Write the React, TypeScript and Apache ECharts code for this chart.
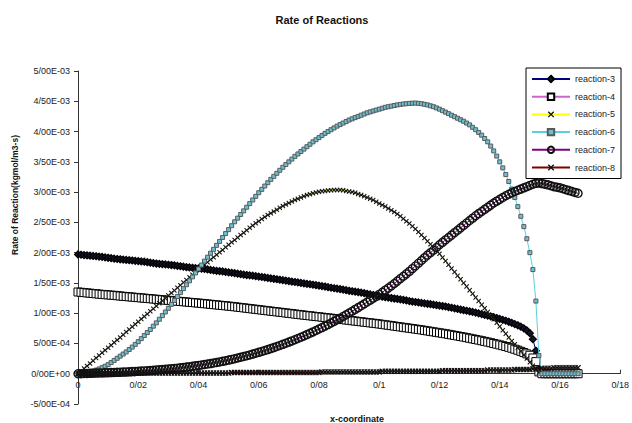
import React, { useEffect, useRef } from 'react';
import * as echarts from 'echarts';

// x-coordinate grid (one entry per cell, 0.001 apart)
const xs = [
  0, 0.001, 0.002, 0.003, 0.004, 0.005, 0.006, 0.007, 0.008, 0.009,
  0.01, 0.011, 0.012, 0.013, 0.014, 0.015, 0.016, 0.017, 0.018, 0.019,
  0.02, 0.021, 0.022, 0.023, 0.024, 0.025, 0.026, 0.027, 0.028, 0.029,
  0.03, 0.031, 0.032, 0.033, 0.034, 0.035, 0.036, 0.037, 0.038, 0.039,
  0.04, 0.041, 0.042, 0.043, 0.044, 0.045, 0.046, 0.047, 0.048, 0.049,
  0.05, 0.051, 0.052, 0.053, 0.054, 0.055, 0.056, 0.057, 0.058, 0.059,
  0.06, 0.061, 0.062, 0.063, 0.064, 0.065, 0.066, 0.067, 0.068, 0.069,
  0.07, 0.071, 0.072, 0.073, 0.074, 0.075, 0.076, 0.077, 0.078, 0.079,
  0.08, 0.081, 0.082, 0.083, 0.084, 0.085, 0.086, 0.087, 0.088, 0.089,
  0.09, 0.091, 0.092, 0.093, 0.094, 0.095, 0.096, 0.097, 0.098, 0.099,
  0.1, 0.101, 0.102, 0.103, 0.104, 0.105, 0.106, 0.107, 0.108, 0.109,
  0.11, 0.111, 0.112, 0.113, 0.114, 0.115, 0.116, 0.117, 0.118, 0.119,
  0.12, 0.121, 0.122, 0.123, 0.124, 0.125, 0.126, 0.127, 0.128, 0.129,
  0.13, 0.131, 0.132, 0.133, 0.134, 0.135, 0.136, 0.137, 0.138, 0.139,
  0.14, 0.141, 0.142, 0.143, 0.144, 0.145, 0.146, 0.147, 0.148, 0.149,
  0.15, 0.151, 0.152, 0.153, 0.154, 0.155, 0.156, 0.157, 0.158, 0.159,
  0.16, 0.161, 0.162, 0.163, 0.164, 0.165, 0.166,
];

// values in units of 1E-03 kgmol/m3-s
const SCALE = 1e-3;

const reaction3 = [
  1.970, 1.965, 1.960, 1.955, 1.950, 1.945, 1.940, 1.935, 1.930, 1.922,
  1.915, 1.908, 1.900, 1.895, 1.890, 1.885, 1.880, 1.875, 1.870, 1.865,
  1.860, 1.855, 1.850, 1.842, 1.835, 1.828, 1.820, 1.815, 1.810, 1.805,
  1.800, 1.795, 1.790, 1.782, 1.775, 1.768, 1.760, 1.755, 1.750, 1.745,
  1.740, 1.735, 1.730, 1.722, 1.715, 1.708, 1.700, 1.695, 1.690, 1.682,
  1.675, 1.668, 1.660, 1.652, 1.645, 1.638, 1.630, 1.625, 1.620, 1.612,
  1.605, 1.598, 1.590, 1.582, 1.575, 1.568, 1.560, 1.552, 1.545, 1.538,
  1.530, 1.522, 1.515, 1.508, 1.500, 1.492, 1.485, 1.478, 1.470, 1.462,
  1.455, 1.448, 1.440, 1.430, 1.420, 1.412, 1.405, 1.398, 1.390, 1.380,
  1.370, 1.362, 1.355, 1.348, 1.340, 1.330, 1.320, 1.310, 1.300, 1.290,
  1.280, 1.272, 1.265, 1.258, 1.250, 1.242, 1.235, 1.228, 1.220, 1.210,
  1.200, 1.192, 1.185, 1.178, 1.170, 1.162, 1.155, 1.148, 1.140, 1.132,
  1.125, 1.118, 1.110, 1.100, 1.090, 1.080, 1.070, 1.060, 1.050, 1.040,
  1.030, 1.020, 1.010, 0.998, 0.985, 0.972, 0.960, 0.948, 0.935, 0.920,
  0.905, 0.890, 0.875, 0.858, 0.840, 0.820, 0.800, 0.777, 0.750, 0.715,
  0.670, 0.570, 0.380, 0.080, 0, 0, 0, 0, 0, 0,
  0, 0, 0, 0, 0, 0, 0,
];

const reaction4 = [
  1.350, 1.345, 1.340, 1.335, 1.330, 1.325, 1.320, 1.315, 1.310, 1.306,
  1.302, 1.298, 1.294, 1.289, 1.284, 1.279, 1.275, 1.270, 1.266, 1.261,
  1.257, 1.252, 1.248, 1.243, 1.239, 1.234, 1.230, 1.225, 1.221, 1.216,
  1.212, 1.207, 1.203, 1.198, 1.194, 1.189, 1.185, 1.180, 1.176, 1.171,
  1.167, 1.162, 1.157, 1.152, 1.147, 1.142, 1.137, 1.132, 1.127, 1.122,
  1.117, 1.112, 1.106, 1.100, 1.094, 1.088, 1.082, 1.076, 1.070, 1.064,
  1.058, 1.052, 1.046, 1.040, 1.034, 1.028, 1.022, 1.016, 1.010, 1.004,
  0.998, 0.992, 0.986, 0.980, 0.974, 0.968, 0.962, 0.957, 0.951, 0.945,
  0.940, 0.934, 0.928, 0.922, 0.917, 0.911, 0.905, 0.900, 0.894, 0.888,
  0.882, 0.876, 0.870, 0.864, 0.858, 0.852, 0.846, 0.840, 0.834, 0.828,
  0.822, 0.815, 0.808, 0.801, 0.794, 0.787, 0.780, 0.773, 0.766, 0.759,
  0.752, 0.745, 0.738, 0.731, 0.724, 0.716, 0.708, 0.700, 0.692, 0.684,
  0.676, 0.668, 0.660, 0.651, 0.642, 0.633, 0.624, 0.615, 0.606, 0.596,
  0.586, 0.576, 0.566, 0.556, 0.545, 0.534, 0.523, 0.512, 0.500, 0.488,
  0.476, 0.463, 0.450, 0.436, 0.421, 0.405, 0.388, 0.370, 0.350, 0.328,
  0.305, 0.260, 0.200, 0.030, 0, 0, 0, 0, 0, 0,
  0, 0, 0, 0, 0, 0, 0,
];

const reaction5 = [
  0.000, 0.042, 0.085, 0.128, 0.170, 0.215, 0.260, 0.302, 0.345, 0.388,
  0.430, 0.472, 0.515, 0.558, 0.600, 0.645, 0.690, 0.732, 0.775, 0.818,
  0.860, 0.902, 0.945, 0.988, 1.030, 1.075, 1.120, 1.162, 1.205, 1.248,
  1.290, 1.332, 1.375, 1.418, 1.460, 1.505, 1.550, 1.592, 1.635, 1.678,
  1.720, 1.760, 1.800, 1.842, 1.885, 1.925, 1.965, 2.005, 2.045, 2.088,
  2.130, 2.170, 2.210, 2.250, 2.290, 2.330, 2.370, 2.410, 2.450, 2.485,
  2.520, 2.555, 2.590, 2.620, 2.650, 2.680, 2.710, 2.740, 2.770, 2.795,
  2.820, 2.845, 2.870, 2.890, 2.910, 2.930, 2.950, 2.965, 2.980, 2.993,
  3.005, 3.013, 3.020, 3.025, 3.030, 3.033, 3.035, 3.033, 3.030, 3.020,
  3.010, 3.000, 2.990, 2.970, 2.950, 2.930, 2.910, 2.890, 2.870, 2.840,
  2.810, 2.785, 2.760, 2.730, 2.700, 2.670, 2.640, 2.600, 2.560, 2.520,
  2.480, 2.435, 2.390, 2.340, 2.290, 2.240, 2.190, 2.140, 2.090, 2.035,
  1.980, 1.920, 1.860, 1.800, 1.740, 1.680, 1.620, 1.560, 1.500, 1.440,
  1.380, 1.320, 1.260, 1.200, 1.140, 1.080, 1.020, 0.960, 0.900, 0.840,
  0.780, 0.720, 0.660, 0.600, 0.540, 0.485, 0.430, 0.370, 0.310, 0.250,
  0.190, 0.130, 0.070, 0.020, 0, 0, 0, 0, 0, 0,
  0, 0, 0, 0, 0, 0, 0,
];

const reaction6 = [
  0.000, 0.004, 0.010, 0.019, 0.030, 0.044, 0.060, 0.079, 0.100, 0.124,
  0.150, 0.184, 0.220, 0.255, 0.290, 0.325, 0.360, 0.400, 0.440, 0.485,
  0.530, 0.580, 0.630, 0.680, 0.730, 0.785, 0.840, 0.900, 0.960, 1.020,
  1.080, 1.145, 1.210, 1.275, 1.340, 1.405, 1.470, 1.535, 1.600, 1.665,
  1.730, 1.795, 1.860, 1.925, 1.990, 2.055, 2.120, 2.185, 2.250, 2.315,
  2.380, 2.445, 2.510, 2.570, 2.630, 2.690, 2.750, 2.810, 2.870, 2.930,
  2.990, 3.045, 3.100, 3.155, 3.210, 3.260, 3.310, 3.360, 3.410, 3.455,
  3.500, 3.545, 3.590, 3.630, 3.670, 3.710, 3.750, 3.790, 3.830, 3.865,
  3.900, 3.935, 3.970, 4.000, 4.030, 4.060, 4.090, 4.115, 4.140, 4.165,
  4.190, 4.210, 4.230, 4.250, 4.270, 4.290, 4.310, 4.325, 4.340, 4.355,
  4.370, 4.385, 4.400, 4.410, 4.420, 4.430, 4.440, 4.448, 4.455, 4.460,
  4.465, 4.468, 4.470, 4.466, 4.460, 4.450, 4.440, 4.425, 4.410, 4.390,
  4.370, 4.345, 4.320, 4.295, 4.270, 4.245, 4.220, 4.195, 4.170, 4.140,
  4.110, 4.070, 4.030, 3.985, 3.940, 3.885, 3.830, 3.760, 3.680, 3.595,
  3.500, 3.400, 3.290, 3.175, 3.050, 2.910, 2.760, 2.600, 2.430, 2.230,
  2.000, 1.720, 1.200, 0.300, 0, 0, 0, 0, 0, 0,
  0, 0, 0, 0, 0, 0, 0,
];

const reaction7 = [
  0.000, 0.0015, 0.003, 0.0045, 0.006, 0.008, 0.010, 0.0115, 0.013, 0.015,
  0.017, 0.0185, 0.020, 0.0225, 0.025, 0.0275, 0.030, 0.0325, 0.035, 0.0375,
  0.040, 0.043, 0.046, 0.0495, 0.053, 0.0565, 0.060, 0.064, 0.068, 0.0725,
  0.077, 0.082, 0.087, 0.0925, 0.098, 0.104, 0.110, 0.1165, 0.123, 0.130,
  0.137, 0.1445, 0.152, 0.160, 0.168, 0.1765, 0.185, 0.195, 0.205, 0.215,
  0.225, 0.236, 0.248, 0.260, 0.272, 0.284, 0.297, 0.310, 0.324, 0.338,
  0.353, 0.368, 0.383, 0.399, 0.415, 0.432, 0.449, 0.467, 0.485, 0.503,
  0.522, 0.542, 0.562, 0.582, 0.603, 0.624, 0.646, 0.668, 0.691, 0.714,
  0.738, 0.762, 0.787, 0.812, 0.838, 0.864, 0.891, 0.918, 0.946, 0.974,
  1.003, 1.032, 1.062, 1.092, 1.122, 1.153, 1.184, 1.215, 1.247, 1.278,
  1.310, 1.345, 1.380, 1.415, 1.450, 1.490, 1.530, 1.570, 1.610, 1.650,
  1.690, 1.735, 1.780, 1.825, 1.870, 1.915, 1.960, 2.000, 2.040, 2.085,
  2.130, 2.170, 2.210, 2.250, 2.290, 2.330, 2.370, 2.410, 2.450, 2.490,
  2.530, 2.570, 2.610, 2.645, 2.680, 2.715, 2.750, 2.785, 2.820, 2.850,
  2.880, 2.910, 2.940, 2.965, 2.990, 3.010, 3.030, 3.050, 3.070, 3.090,
  3.110, 3.130, 3.145, 3.150, 3.140, 3.130, 3.120, 3.105, 3.090, 3.080,
  3.070, 3.055, 3.040, 3.025, 3.010, 2.995, 2.980,
];

const reaction8 = [
  0, 0, 0, 0, 0, 0, 0, 0, 0, 0,
  0, 0, 0, 0, 0, 0, 0, 0, 0, 0.01,
  0.01, 0.01, 0.01, 0.01, 0.01, 0.01, 0.01, 0.01, 0.01, 0.01,
  0.01, 0.01, 0.01, 0.01, 0.01, 0.01, 0.01, 0.01, 0.01, 0.01,
  0.01, 0.01, 0.01, 0.01, 0.01, 0.01, 0.01, 0.01, 0.01, 0.01,
  0.01, 0.02, 0.02, 0.02, 0.02, 0.02, 0.02, 0.02, 0.02, 0.02,
  0.02, 0.02, 0.02, 0.02, 0.02, 0.02, 0.02, 0.02, 0.02, 0.02,
  0.02, 0.02, 0.02, 0.02, 0.02, 0.02, 0.02, 0.02, 0.02, 0.02,
  0.02, 0.03, 0.03, 0.03, 0.03, 0.03, 0.03, 0.03, 0.03, 0.03,
  0.03, 0.03, 0.03, 0.03, 0.03, 0.03, 0.03, 0.03, 0.03, 0.03,
  0.03, 0.04, 0.04, 0.04, 0.04, 0.04, 0.04, 0.04, 0.04, 0.04,
  0.04, 0.04, 0.04, 0.04, 0.04, 0.04, 0.04, 0.04, 0.04, 0.04,
  0.04, 0.05, 0.05, 0.05, 0.05, 0.05, 0.05, 0.05, 0.05, 0.05,
  0.05, 0.05, 0.05, 0.05, 0.05, 0.05, 0.06, 0.06, 0.06, 0.06,
  0.06, 0.06, 0.06, 0.06, 0.06, 0.07, 0.07, 0.07, 0.07, 0.07,
  0.07, 0.08, 0.08, 0.08, 0.09, 0.09, 0.09, 0.09, 0.10, 0.10,
  0.10, 0.10, 0.10, 0.10, 0.10, 0.10, 0.10,
];

const seriesNames = ['reaction-3', 'reaction-4', 'reaction-5', 'reaction-6', 'reaction-7', 'reaction-8'];
const seriesValues = [reaction3, reaction4, reaction5, reaction6, reaction7, reaction8];

const FONT = '"Liberation Sans", Arial, sans-serif';
const CROSS = 'path://M0,1.5L1.5,0L5,3.5L8.5,0L10,1.5L6.5,5L10,8.5L8.5,10L5,6.5L1.5,10L0,8.5L3.5,5Z';

const styles = [
  { line: '#000080', symbol: 'diamond', size: 7, fill: '#15152a', border: '#000', bw: 1.2 },
  { line: '#CC66CC', symbol: 'rect', size: 8, fill: '#ffffff', border: '#000', bw: 1 },
  { line: '#FFFF00', symbol: CROSS, size: 5, fill: '#111', border: '#111', bw: 0 },
  { line: '#5BCFE0', symbol: 'rect', size: 4, fill: '#6cc0d2', border: '#5a5a5a', bw: 1 },
  { line: '#800080', symbol: 'circle', size: 8, fill: 'rgba(255,255,255,0)', border: '#111', bw: 1.4 },
  { line: '#800000', symbol: CROSS, size: 6, fill: '#111', border: '#111', bw: 0 },
];

function fmtY(v: number): string {
  const s = v.toExponential(2);
  const [m, e] = s.split('e');
  const n = parseInt(e, 10);
  const sign = n < 0 ? '-' : '+';
  return m.replace('.', '/') + 'E' + sign + String(Math.abs(n)).padStart(2, '0');
}

function fmtX(v: number): string {
  const r = Math.round(v * 100) / 100;
  return String(r).replace('.', '/');
}

export default function App() {
  const ref = useRef<HTMLDivElement>(null);

  useEffect(() => {
    document.body.style.margin = '0';
    const chart = echarts.init(ref.current!, null, { renderer: 'svg' });

    const series = seriesNames.map((name, k) => {
      const st = styles[k];
      return {
        name,
        type: 'line',
        data: xs.map((x, i) => [x, seriesValues[k][i] * SCALE]),
        symbol: st.symbol,
        symbolSize: st.size,
        showSymbol: true,
        showAllSymbol: true,
        lineStyle: { color: st.line, width: 1 },
        itemStyle: { color: st.fill, borderColor: st.border, borderWidth: st.bw },
        emphasis: { disabled: true },
        silent: true,
        z: 2 + k,
      };
    });

    // y=0 sits 30.27px above the grid bottom (333px for 5.5E-03)
    const zeroOffset = -(333 * 0.0005) / 0.0055;

    chart.setOption({
      animation: false,
      backgroundColor: '#ffffff',
      textStyle: { fontFamily: FONT },
      grid: { left: 78, right: 9, top: 71, bottom: 19, containLabel: false },
      legend: {
        orient: 'vertical',
        left: 526,
        top: 68,
        padding: [6.5, 6, 6.5, 5],
        itemWidth: 38,
        itemHeight: 8,
        itemGap: 8.7,
        borderColor: '#000',
        borderWidth: 1,
        backgroundColor: '#fff',
        textStyle: { fontSize: 9, color: '#222', fontFamily: FONT },
        lineStyle: { width: 2 },
        data: seriesNames,
      },
      xAxis: {
        type: 'value',
        min: 0,
        max: 0.18,
        interval: 0.02,
        offset: zeroOffset,
        axisLine: { show: true, onZero: false, lineStyle: { color: '#333', width: 1 } },
        axisTick: { show: true, inside: true, length: 4, lineStyle: { color: '#333' } },
        axisLabel: { formatter: fmtX, fontSize: 9, color: '#222', margin: 7, fontFamily: FONT },
        splitLine: { show: false },
      },
      yAxis: {
        type: 'value',
        min: -0.0005,
        max: 0.005,
        interval: 0.0005,
        axisLine: { show: true, lineStyle: { color: '#333', width: 1 } },
        axisTick: { show: true, inside: false, length: 4, lineStyle: { color: '#333' } },
        axisLabel: { formatter: fmtY, fontSize: 9, color: '#222', margin: 8, fontFamily: FONT },
        splitLine: { show: false },
      },
      graphic: [
        {
          type: 'text',
          x: 322,
          y: 20,
          style: { text: 'Rate of Reactions', font: `bold 11px ${FONT}`, fill: '#111', textAlign: 'center', textVerticalAlign: 'middle' },
        },
        {
          type: 'text',
          x: 357,
          y: 419,
          style: { text: 'x-coordinate', font: `bold 9px ${FONT}`, fill: '#111', textAlign: 'center', textVerticalAlign: 'middle' },
        },
        {
          type: 'text',
          x: 15,
          y: 195,
          rotation: Math.PI / 2,
          style: { text: 'Rate of Reaction(kgmol/m3-s)', font: `bold 8.5px ${FONT}`, fill: '#111', textAlign: 'center', textVerticalAlign: 'middle' },
        },
      ],
      series,
    });

    return () => chart.dispose();
  }, []);

  return <div ref={ref} style={{ width: 632, height: 423 }} />;
}
